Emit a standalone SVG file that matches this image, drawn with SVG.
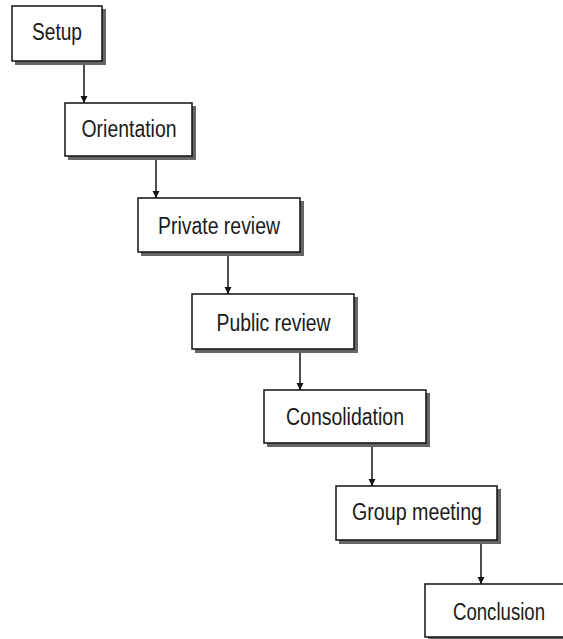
<svg xmlns="http://www.w3.org/2000/svg" width="563" height="639" viewBox="0 0 563 639">
<defs>
<style>
.shadow{fill:#666;}
.box{fill:#fff;stroke:#111;stroke-width:1.5;}
.lbl{font-family:"Liberation Sans",Arial,Helvetica,sans-serif;font-size:23px;fill:#1a1a1a;text-anchor:middle;}
.conn{stroke:#111;stroke-width:1.5;fill:none;marker-end:url(#ah);}
</style>
<marker id="ah" viewBox="0 0 10 10" refX="10" refY="5" markerWidth="7" markerHeight="9" markerUnits="userSpaceOnUse" orient="auto">
<path d="M0,0 L10,5 L0,10 Z" fill="#111"/>
</marker>
</defs>
<rect width="563" height="639" fill="#fff"/>
<g id="connectors">
<line class="conn" x1="84" y1="61" x2="84" y2="103"/>
<line class="conn" x1="156" y1="156" x2="156" y2="198"/>
<line class="conn" x1="228" y1="252" x2="228" y2="294"/>
<line class="conn" x1="300" y1="349" x2="300" y2="390"/>
<line class="conn" x1="372" y1="443" x2="372" y2="486"/>
<line class="conn" x1="481" y1="540" x2="481" y2="584"/>
</g>
<g id="setup">
<rect class="shadow" x="15" y="9" width="91" height="56"/>
<rect class="box" x="12" y="6" width="90" height="55"/>
<text class="lbl" x="57" y="40" textLength="50" lengthAdjust="spacingAndGlyphs">Setup</text>
</g>
<g id="orientation">
<rect class="shadow" x="68" y="106" width="128" height="54"/>
<rect class="box" x="65" y="103" width="127" height="53"/>
<text class="lbl" x="129" y="137" textLength="95" lengthAdjust="spacingAndGlyphs">Orientation</text>
</g>
<g id="private-review">
<rect class="shadow" x="141" y="201" width="163" height="55"/>
<rect class="box" x="138" y="198" width="162" height="54"/>
<text class="lbl" x="219" y="234" textLength="122" lengthAdjust="spacingAndGlyphs">Private review</text>
</g>
<g id="public-review">
<rect class="shadow" x="195" y="297" width="163" height="56"/>
<rect class="box" x="192" y="294" width="162" height="55"/>
<text class="lbl" x="273.5" y="330.5" textLength="114" lengthAdjust="spacingAndGlyphs">Public review</text>
</g>
<g id="consolidation">
<rect class="shadow" x="267" y="393" width="163" height="54"/>
<rect class="box" x="264" y="390" width="162" height="53"/>
<text class="lbl" x="345" y="425" textLength="118" lengthAdjust="spacingAndGlyphs">Consolidation</text>
</g>
<g id="group-meeting">
<rect class="shadow" x="339" y="489" width="162" height="55"/>
<rect class="box" x="336" y="486" width="161" height="54"/>
<text class="lbl" x="417" y="520" textLength="130" lengthAdjust="spacingAndGlyphs">Group meeting</text>
</g>
<g id="conclusion">
<rect class="shadow" x="428" y="587" width="160" height="53"/>
<rect class="box" x="425" y="584" width="160" height="53"/>
<text class="lbl" x="499" y="619.5" textLength="92" lengthAdjust="spacingAndGlyphs">Conclusion</text>
</g>
</svg>
